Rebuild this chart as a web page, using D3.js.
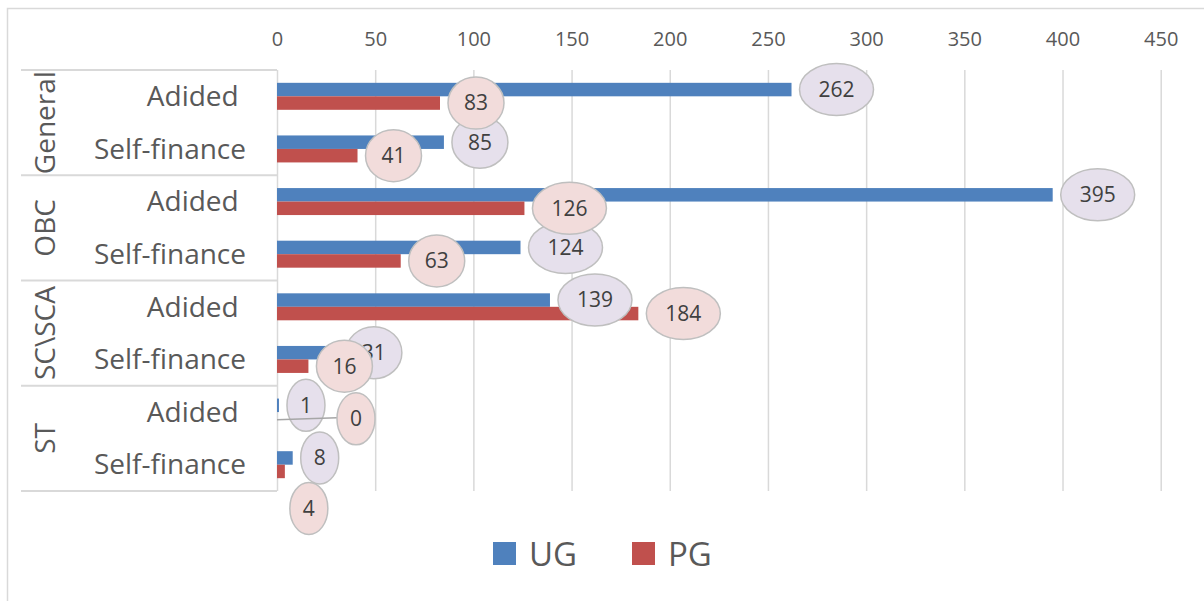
<!DOCTYPE html>
<html>
<head>
<meta charset="utf-8">
<script src="https://cdn.jsdelivr.net/npm/d3@7"></script>
<style>
  body { margin: 0; background: #fff; }
  text { font-family: "Open Sans", sans-serif; white-space: pre; }
</style>
</head>
<body>
<div id="chart"></div>
<script>
// groups and the sub-categories inside each one
const groups = ["General", "OBC", "SC\\SCA", "ST"];
const subCats = ["Adided ", "Self-finance"];
const seriesNames = ["UG", "PG"];

// values, one per group/sub-category row
const ugValues = [262, 85, 395, 124, 139, 31, 1, 8];
const pgValues = [83, 41, 126, 63, 184, 16, 0, 4];

const xTicks = [0, 50, 100, 150, 200, 250, 300, 350, 400, 450];

const colors = { UG: "#4f81bd", PG: "#c0504d" };
const labelFill = { UG: "#e6e0ec", PG: "#f2dcdb" };

// manual label nudges (Excel moved two of the callouts by hand)
const labelNudge = { "PG-6": [52, 0, true], "PG-7": [-3, 37, false] };

const width = 1204, height = 601;
const margin = { top: 70, right: 44, bottom: 110, left: 277 };

const rows = [];
groups.forEach(g => subCats.forEach(s => rows.push(g + "|" + s)));

const svg = d3.select("#chart").append("svg")
    .attr("width", width)
    .attr("height", height);

// chart area border
svg.append("rect")
    .attr("x", 7.5).attr("y", 8.5)
    .attr("width", width).attr("height", height)
    .attr("fill", "none")
    .attr("stroke", "#d9d9d9")
    .attr("stroke-width", 1.5);

const x = d3.scaleLinear()
    .domain([0, 450])
    .range([margin.left, 1160.7]);

const y = d3.scaleBand()
    .domain(rows)
    .range([margin.top, 491]);

const ySub = d3.scaleBand()
    .domain(seriesNames)
    .range([0, y.bandwidth()])
    .paddingOuter(0.95);

// gridlines
svg.append("g")
    .attr("transform", `translate(0,${margin.top})`)
    .call(d3.axisBottom(x).tickValues(xTicks).tickSize(491 - margin.top).tickFormat(""))
    .call(g => g.select(".domain").remove())
    .call(g => g.selectAll("line").attr("stroke", "#d9d9d9").attr("stroke-width", 1.5));

// tick labels on top
svg.append("g")
    .attr("transform", "translate(0,46)")
    .call(d3.axisTop(x).tickValues(xTicks).tickSize(0).tickPadding(0))
    .call(g => g.select(".domain").remove())
    .call(g => g.selectAll("text")
        .attr("font-family", "Open Sans")
        .attr("font-size", 20)
        .attr("fill", "#595959"));

// category table lines
const groupBounds = groups.map((g, i) => y(g + "|" + subCats[0]))
    .concat([y.range()[1]]);
svg.append("g").selectAll("line")
    .data(groupBounds)
    .enter().append("line")
    .attr("x1", 21).attr("x2", margin.left)
    .attr("y1", d => d).attr("y2", d => d)
    .attr("stroke", "#d9d9d9")
    .attr("stroke-width", 2);

// sub-category labels
svg.append("g").selectAll("text")
    .data(rows)
    .enter().append("text")
    .attr("x", 246)
    .attr("y", d => y(d) + y.bandwidth() / 2)
    .attr("dy", "0.35em")
    .attr("text-anchor", "end")
    .attr("font-size", 28)
    .attr("fill", "#595959")
    .text(d => d.split("|")[1]);

// group labels, rotated
svg.append("g").selectAll("text")
    .data(groups)
    .enter().append("text")
    .attr("transform", g => {
        const cy = y(g + "|" + subCats[0]) + y.bandwidth();
        return `translate(45,${cy}) rotate(-90)`;
    })
    .attr("dy", "0.35em")
    .attr("text-anchor", "middle")
    .attr("font-size", 28)
    .attr("fill", "#595959")
    .text(d => d);

// bars
const barData = [];
seriesNames.forEach(s => {
    const vals = s === "UG" ? ugValues : pgValues;
    rows.forEach((r, i) => barData.push({ series: s, row: r, i: i, value: vals[i] }));
});

svg.append("g").selectAll("rect")
    .data(barData)
    .enter().append("rect")
    .attr("x", x(0))
    .attr("y", d => y(d.row) + ySub(d.series))
    .attr("width", d => x(d.value) - x(0))
    .attr("height", ySub.bandwidth())
    .attr("fill", d => colors[d.series]);

// data label callouts
const labels = svg.append("g");
barData.forEach(d => {
    const rx = 10 + 9 * String(d.value).length;
    const nudge = labelNudge[d.series + "-" + d.i] || [0, 0, false];
    const barY = y(d.row) + ySub(d.series) + ySub.bandwidth() / 2;
    const cx = x(d.value) + 8 + rx + nudge[0];
    const cy = barY + nudge[1];
    if (nudge[2]) {
        labels.append("line")
            .attr("x1", x(d.value)).attr("y1", barY + 1)
            .attr("x2", cx - rx).attr("y2", cy - 1)
            .attr("stroke", "#a6a6a6")
            .attr("stroke-width", 1.5);
    }
    labels.append("ellipse")
        .attr("cx", cx).attr("cy", cy)
        .attr("rx", rx).attr("ry", 26)
        .attr("fill", labelFill[d.series])
        .attr("stroke", "#bfbfbf")
        .attr("stroke-width", 1.5);
    labels.append("text")
        .attr("x", cx).attr("y", cy)
        .attr("dy", "0.35em")
        .attr("text-anchor", "middle")
        .attr("font-size", 21)
        .attr("fill", "#404040")
        .text(d.value);
});

// legend
const legend = svg.append("g");
const legendX = [493, 632];
seriesNames.forEach((s, i) => {
    legend.append("rect")
        .attr("x", legendX[i]).attr("y", 542)
        .attr("width", 23).attr("height", 23)
        .attr("fill", colors[s]);
    legend.append("text")
        .attr("x", legendX[i] + 36).attr("y", 566)
        .attr("font-size", 33)
        .attr("fill", "#595959")
        .text(s);
});
</script>
</body>
</html>
